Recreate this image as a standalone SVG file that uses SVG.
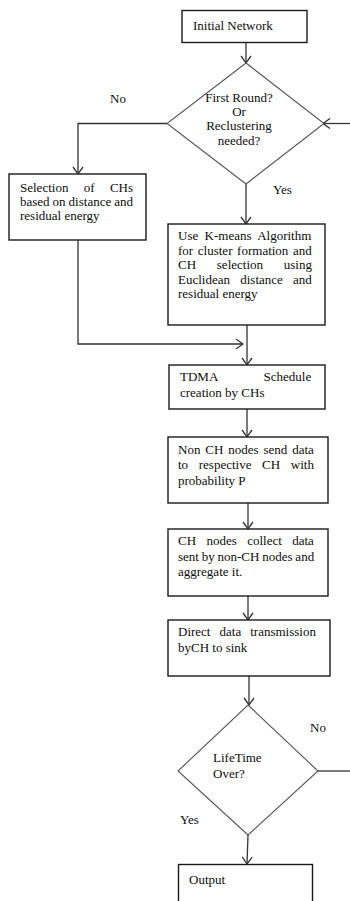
<svg xmlns="http://www.w3.org/2000/svg" width="350" height="901" viewBox="0 0 350 901">
<defs>
<style>
.box{fill:#fff;stroke:#1a1a1a;stroke-width:1.4}
.dia{fill:#fff;stroke:#555;stroke-width:1.1}
.ln{fill:none;stroke:#333;stroke-width:1.3}
text{font-family:"Liberation Serif","Times New Roman",serif;font-size:13px;fill:#0d0d0d}
.c{text-anchor:middle}
</style>
<marker id="ah" viewBox="-8 -6 10 12" refX="0" refY="0" markerWidth="10" markerHeight="12" markerUnits="userSpaceOnUse" orient="auto">
<path d="M-7,-5 L0,0 L-7,5" fill="none" stroke="#333" stroke-width="1.3"/>
</marker>
</defs>
<rect width="350" height="901" fill="#fff"/>

<g id="connectors">
<line class="ln" x1="246" y1="42.5" x2="246" y2="63" marker-end="url(#ah)"/>
<polyline class="ln" points="167,123.5 78,123.5 78,174" marker-end="url(#ah)"/>
<line class="ln" x1="350" y1="123.5" x2="323" y2="123.5" marker-end="url(#ah)"/>
<line class="ln" x1="246" y1="184" x2="246" y2="224" marker-end="url(#ah)"/>
<polyline class="ln" points="78,240 78,344 243,344" marker-end="url(#ah)"/>
<line class="ln" x1="247" y1="325" x2="247" y2="365" marker-end="url(#ah)"/>
<line class="ln" x1="247" y1="409" x2="247" y2="437" marker-end="url(#ah)"/>
<line class="ln" x1="248" y1="503" x2="248" y2="529" marker-end="url(#ah)"/>
<line class="ln" x1="248" y1="596" x2="248" y2="620" marker-end="url(#ah)"/>
<line class="ln" x1="249" y1="676" x2="249" y2="705" marker-end="url(#ah)"/>
<line class="ln" x1="318" y1="771" x2="350" y2="771"/>
<line class="ln" x1="248" y1="835" x2="247" y2="864" marker-end="url(#ah)"/>
<text x="110" y="103">No</text>
<text x="273" y="194">Yes</text>
<text x="310" y="731.5">No</text>
<text x="180" y="824">Yes</text>
</g>

<g id="initial">
<rect class="box" x="182" y="10.5" width="125" height="32"/>
<text x="193" y="29.5">Initial Network</text>
</g>

<g id="decision1">
<polygon class="dia" points="246,63 324,123.5 246,184 167,123.5"/>
<text class="c" x="239" y="101.5">First Round?</text>
<text class="c" x="239" y="116">Or</text>
<text class="c" x="239" y="130">Reclustering</text>
<text class="c" x="239" y="144.5">needed?</text>
</g>

<g id="selection">
<rect class="box" x="9" y="174" width="137" height="66"/>
<text x="20" y="192" word-spacing="12.1">Selection of CHs</text>
<text x="20" y="206" word-spacing="-0.25">based on distance and</text>
<text x="20" y="220">residual energy</text>
</g>

<g id="kmeans">
<rect class="box" x="168" y="224" width="157" height="101"/>
<text x="178" y="240" word-spacing="3.1">Use K-means Algorithm</text>
<text x="178" y="254.5" word-spacing="1.4">for cluster formation and</text>
<text x="178" y="269" word-spacing="17.5">CH selection using</text>
<text x="178" y="283.5" word-spacing="7">Euclidean distance and</text>
<text x="178" y="298">residual energy</text>
</g>

<g id="tdma">
<rect class="box" x="169" y="365" width="156" height="44"/>
<text x="180" y="381" word-spacing="42.7">TDMA Schedule</text>
<text x="180" y="396.5">creation by CHs</text>
</g>

<g id="nonch">
<rect class="box" x="168" y="437" width="160" height="66"/>
<text x="178" y="453.5" word-spacing="1.65">Non CH nodes send data</text>
<text x="178" y="469" word-spacing="7.4">to respective CH with</text>
<text x="178" y="484.5">probability P</text>
</g>

<g id="chnodes">
<rect class="box" x="168" y="529" width="160" height="67"/>
<text x="178" y="545" word-spacing="7.15">CH nodes collect data</text>
<text x="178" y="560.5" word-spacing="-0.45">sent by non-CH nodes and</text>
<text x="178" y="576">aggregate it.</text>
</g>

<g id="direct">
<rect class="box" x="168" y="620" width="162" height="56"/>
<text x="178" y="636" word-spacing="5.8">Direct data transmission</text>
<text x="178" y="652">byCH to sink</text>
</g>

<g id="decision2">
<polygon class="dia" points="248,705 318,771 248,835 178,771"/>
<text x="213" y="762">LifeTime</text>
<text x="213" y="777.5">Over?</text>
</g>

<g id="output">
<rect class="box" x="178.5" y="864.5" width="134" height="50"/>
<text x="189" y="883.5">Output</text>
</g>
</svg>
